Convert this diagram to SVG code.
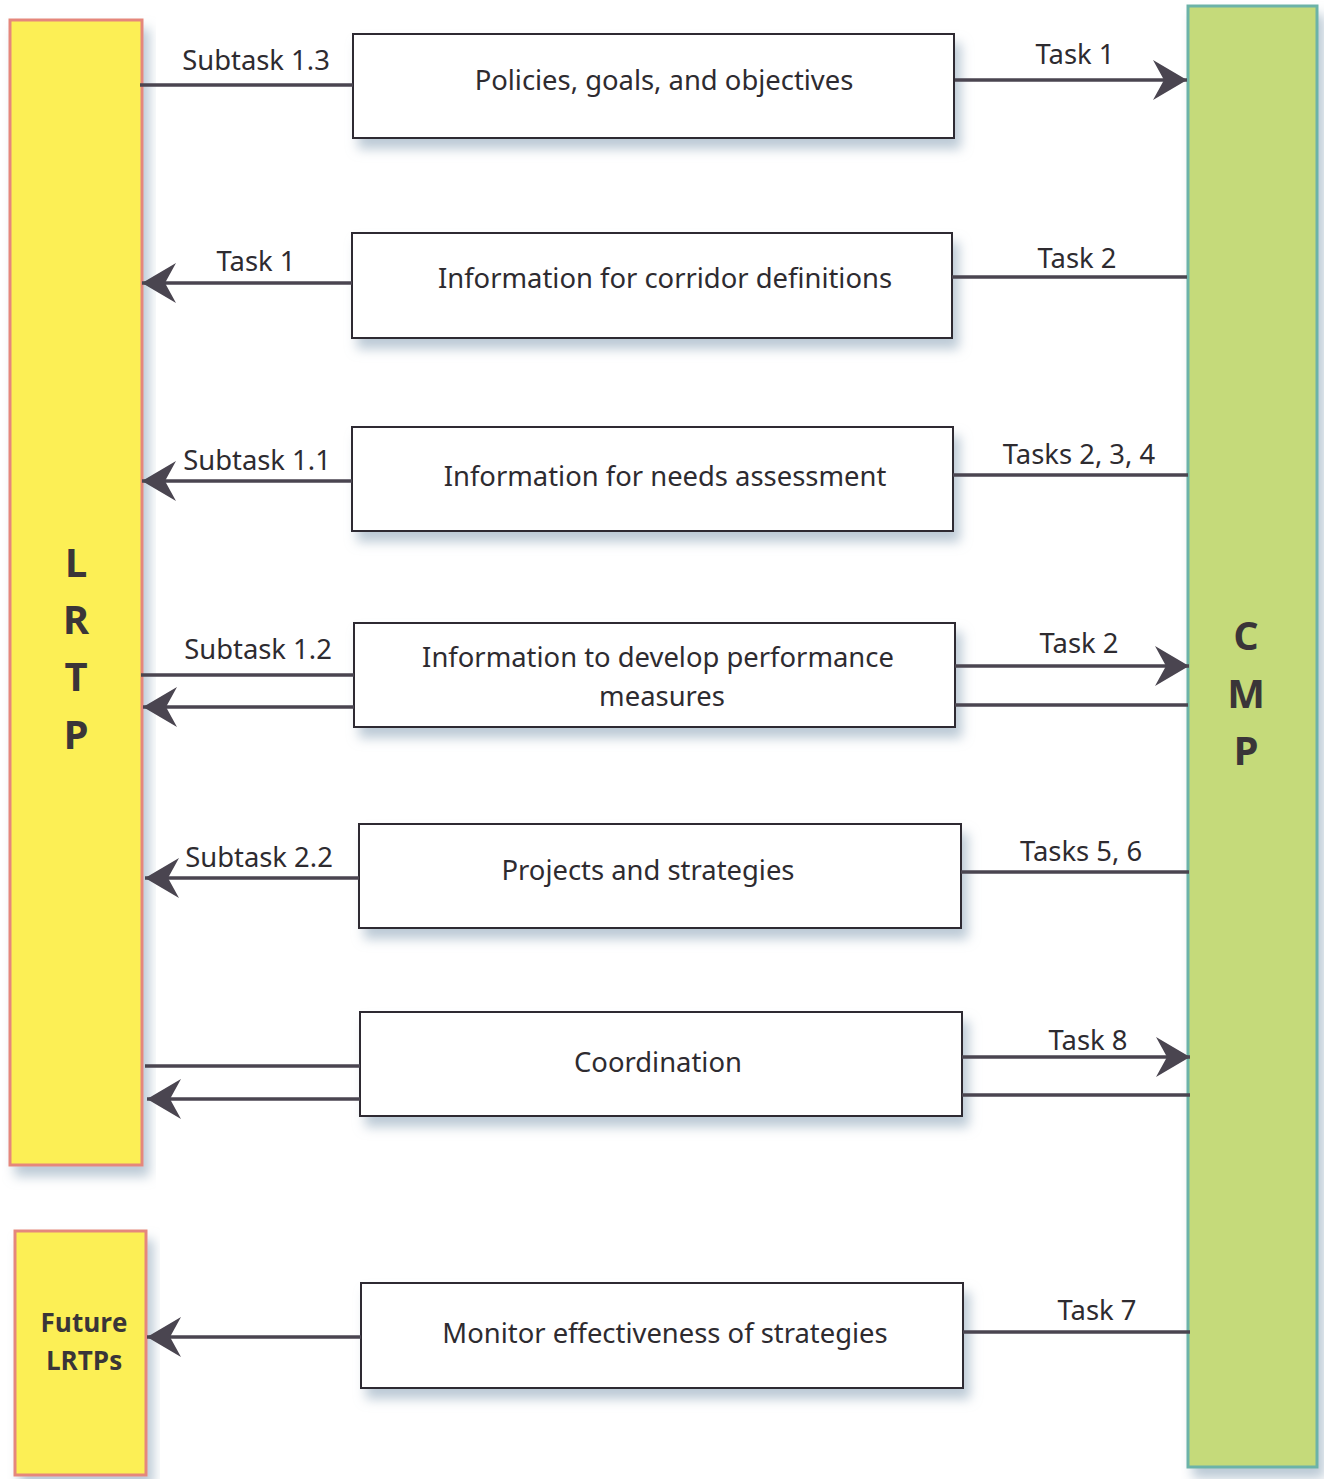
<svg xmlns="http://www.w3.org/2000/svg" width="1324" height="1479" viewBox="0 0 1324 1479">
<defs>
<filter id="sh" x="-10%" y="-20%" width="120%" height="150%">
<feGaussianBlur in="SourceAlpha" stdDeviation="6"/>
<feOffset dx="6" dy="10" result="b"/>
<feFlood flood-color="#9fb3c4" flood-opacity="0.7"/>
<feComposite in2="b" operator="in"/>
<feMerge><feMergeNode/><feMergeNode in="SourceGraphic"/></feMerge>
</filter>
<marker id="ah" viewBox="-36 -22 38 44" refX="0" refY="0" markerWidth="38" markerHeight="44" markerUnits="userSpaceOnUse" orient="auto">
<path d="M0,0 L-34,-20 L-23,0 L-34,20 Z" fill="#4a4550"/>
</marker>
</defs>
<style>
.box{fill:#ffffff;stroke:#2e2b30;stroke-width:2}
.lrtp{fill:#fcef55;stroke:#e5877c;stroke-width:3}
.cmp{fill:#c5da7a;stroke:#6cb3a8;stroke-width:3}
.t{font-family:"Noto Sans","Open Sans",sans-serif;font-size:27.4px;fill:#2e2b30;text-anchor:middle}
.l{font-family:"Noto Sans","Open Sans",sans-serif;font-size:27.4px;fill:#2e2b30;text-anchor:middle}
.b{font-family:"Open Sans","Noto Sans",sans-serif;font-weight:bold;fill:#3a3538;text-anchor:middle}
.c{stroke:#4a4550;stroke-width:3.5;fill:none}
.a{marker-end:url(#ah)}
</style>
<g id="lrtp"><rect class="lrtp" x="10" y="20" width="132" height="1145" filter="url(#sh)"/>
<text class="b" font-size="40" x="76" y="577">L</text>
<text class="b" font-size="40" x="76" y="634">R</text>
<text class="b" font-size="40" x="76" y="691">T</text>
<text class="b" font-size="40" x="76" y="749">P</text></g>
<g id="future"><rect class="lrtp" x="15" y="1231" width="131" height="244" filter="url(#sh)"/>
<text class="b" font-size="26" x="84" y="1332">Future</text>
<text class="b" font-size="26" x="84" y="1370">LRTPs</text></g>
<g id="cmp"><rect class="cmp" x="1188" y="6" width="129" height="1461" filter="url(#sh)"/>
<text class="b" font-size="40" x="1246" y="650">C</text>
<text class="b" font-size="40" x="1246" y="708">M</text>
<text class="b" font-size="40" x="1246" y="765">P</text></g>
<g id="n1"><rect class="box" x="353" y="34" width="601" height="104" filter="url(#sh)"/><text class="t" x="664" y="90">Policies, goals, and objectives</text></g>
<g id="n2"><rect class="box" x="352" y="233" width="600" height="105" filter="url(#sh)"/><text class="t" x="665" y="288">Information for corridor definitions</text></g>
<g id="n3"><rect class="box" x="352" y="427" width="601" height="104" filter="url(#sh)"/><text class="t" x="665" y="486">Information for needs assessment</text></g>
<g id="n4"><rect class="box" x="354" y="623" width="601" height="104" filter="url(#sh)"/><text class="t" x="658" y="667">Information to develop performance</text><text class="t" x="662" y="706">measures</text></g>
<g id="n5"><rect class="box" x="359" y="824" width="602" height="104" filter="url(#sh)"/><text class="t" x="648" y="880">Projects and strategies</text></g>
<g id="n6"><rect class="box" x="360" y="1012" width="602" height="104" filter="url(#sh)"/><text class="t" x="658" y="1072">Coordination</text></g>
<g id="n7"><rect class="box" x="361" y="1283" width="602" height="105" filter="url(#sh)"/><text class="t" x="665" y="1343">Monitor effectiveness of strategies</text></g>
<g id="connectors">
<line class="c" x1="140" y1="85" x2="353" y2="85"/>
<line class="c a" x1="955" y1="80" x2="1187" y2="80"/>
<line class="c a" x1="352" y1="283" x2="142" y2="283"/>
<line class="c" x1="952" y1="277" x2="1187" y2="277"/>
<line class="c a" x1="352" y1="481" x2="142" y2="481"/>
<line class="c" x1="953" y1="475" x2="1188" y2="475"/>
<line class="c" x1="141" y1="675" x2="354" y2="675"/>
<line class="c a" x1="354" y1="707" x2="143" y2="707"/>
<line class="c a" x1="955" y1="666" x2="1189" y2="666"/>
<line class="c" x1="955" y1="705" x2="1188" y2="705"/>
<line class="c a" x1="359" y1="878" x2="145" y2="878"/>
<line class="c" x1="961" y1="872" x2="1189" y2="872"/>
<line class="c" x1="145" y1="1066" x2="360" y2="1066"/>
<line class="c a" x1="360" y1="1099" x2="147" y2="1099"/>
<line class="c a" x1="962" y1="1057" x2="1190" y2="1057"/>
<line class="c" x1="962" y1="1095" x2="1190" y2="1095"/>
<line class="c a" x1="361" y1="1337" x2="147" y2="1337"/>
<line class="c" x1="963" y1="1332" x2="1190" y2="1332"/>
<text class="l" x="256" y="70">Subtask 1.3</text>
<text class="l" x="1075" y="64">Task 1</text>
<text class="l" x="256" y="271">Task 1</text>
<text class="l" x="1077" y="268">Task 2</text>
<text class="l" x="257" y="470">Subtask 1.1</text>
<text class="l" x="1079" y="464">Tasks 2, 3, 4</text>
<text class="l" x="258" y="659">Subtask 1.2</text>
<text class="l" x="1079" y="653">Task 2</text>
<text class="l" x="259" y="867">Subtask 2.2</text>
<text class="l" x="1081" y="861">Tasks 5, 6</text>
<text class="l" x="1088" y="1050">Task 8</text>
<text class="l" x="1097" y="1320">Task 7</text>
</g>
</svg>
